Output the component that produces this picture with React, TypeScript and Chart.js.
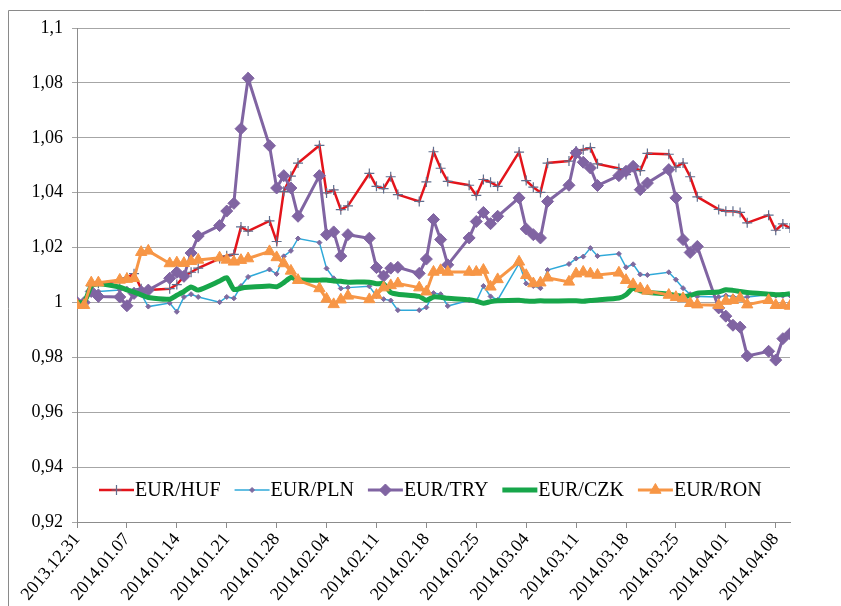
import React, { useEffect, useRef } from "react";
import { Chart, registerables } from "chart.js";
import { drawPoint } from "chart.js/helpers";

Chart.register(...registerables);

// Trading days (x positions come from the calendar date on a linear day axis)
const dates = [
  "2013.12.31", "2014.01.01", "2014.01.02", "2014.01.03",
  "2014.01.06", "2014.01.07", "2014.01.08", "2014.01.09", "2014.01.10",
  "2014.01.13", "2014.01.14", "2014.01.15", "2014.01.16", "2014.01.17",
  "2014.01.20", "2014.01.21", "2014.01.22", "2014.01.23", "2014.01.24",
  "2014.01.27", "2014.01.28", "2014.01.29", "2014.01.30", "2014.01.31",
  "2014.02.03", "2014.02.04", "2014.02.05", "2014.02.06", "2014.02.07",
  "2014.02.10", "2014.02.11", "2014.02.12", "2014.02.13", "2014.02.14",
  "2014.02.17", "2014.02.18", "2014.02.19", "2014.02.20", "2014.02.21",
  "2014.02.24", "2014.02.25", "2014.02.26", "2014.02.27", "2014.02.28",
  "2014.03.03", "2014.03.04", "2014.03.05", "2014.03.06", "2014.03.07",
  "2014.03.10", "2014.03.11", "2014.03.12", "2014.03.13", "2014.03.14",
  "2014.03.17", "2014.03.18", "2014.03.19", "2014.03.20", "2014.03.21",
  "2014.03.24", "2014.03.25", "2014.03.26", "2014.03.27", "2014.03.28",
  "2014.03.31", "2014.04.01", "2014.04.02", "2014.04.03", "2014.04.04",
  "2014.04.07", "2014.04.08", "2014.04.09", "2014.04.10",
];

const eurHuf = [
  1.000, 1.000, 1.006, 1.007,
  1.008, 1.009, 1.0105, 1.005, 1.0045,
  1.005, 1.0065, 1.0095, 1.011, 1.0125,
  1.016, 1.017, 1.0175, 1.0275, 1.026,
  1.0297, 1.0222, 1.0405, 1.046, 1.0508,
  1.0572, 1.0399, 1.041, 1.0338, 1.0352,
  1.047, 1.0423, 1.0415, 1.0458, 1.0393,
  1.0368, 1.0439, 1.0549, 1.0489, 1.0441,
  1.0427, 1.039, 1.0448, 1.0438, 1.0423,
  1.0548, 1.0444, 1.042, 1.0401, 1.0508,
  1.0515, 1.0552, 1.0556, 1.0564, 1.0505,
  1.0488, 1.0466, 1.0495, 1.048, 1.0543,
  1.054, 1.0493, 1.0508, 1.0458, 1.0385,
  1.0339, 1.0332, 1.0332, 1.0328, 1.029,
  1.0318, 1.0263, 1.0286, 1.0271,
];

const eurPln = [
  1.000, 1.000, 1.004, 1.004,
  1.0045, 1.005, 1.0045, 1.003, 0.9985,
  0.9998, 0.9966, 1.002, 1.003, 1.002,
  1.0001, 1.002, 1.0015, 1.006, 1.0093,
  1.012, 1.0104, 1.0168, 1.0188, 1.0233,
  1.0218, 1.0124, 1.0088, 1.0051, 1.0054,
  1.0059, 1.0023, 1.0012, 1.0007, 0.9972,
  0.9972, 0.9982, 1.0034, 1.003, 0.9987,
  1.0008, 1.0004, 1.006, 1.0022, 1.0009,
  1.0142, 1.0069, 1.006, 1.0052, 1.0118,
  1.014, 1.016, 1.0167, 1.0198, 1.0169,
  1.0177, 1.0128, 1.0139, 1.0102, 1.01,
  1.011, 1.0083, 1.0052, 1.003, 1.0022,
  1.002, 1.0025, 1.0022, 1.0018, 1.002,
  1.0028, 1.0025, 1.0024, 1.0025,
];

const eurTry = [
  1.000, 1.000, 1.004, 1.0022,
  1.002, 0.9988, 1.0033, 1.004, 1.0045,
  1.0088, 1.011, 1.0095, 1.018, 1.0242,
  1.028, 1.0333, 1.0361, 1.0633, 1.0817,
  1.0571, 1.0417, 1.0462, 1.0417, 1.0314,
  1.0462, 1.0247, 1.0257, 1.0169, 1.0247,
  1.0234, 1.0127, 1.0096, 1.0125, 1.0128,
  1.0106, 1.0158, 1.0302, 1.0229, 1.0137,
  1.0235, 1.0295, 1.0328, 1.0287, 1.0314,
  1.0381, 1.0268, 1.0247, 1.0235, 1.0368,
  1.0427, 1.0545, 1.0511, 1.049, 1.0426,
  1.0462, 1.0478, 1.0496, 1.0411, 1.0435,
  1.0484, 1.0381, 1.0229, 1.0182, 1.0204,
  0.998, 0.995, 0.9917, 0.991, 0.9805,
  0.9822, 0.979, 0.9868, 0.9886,
];

const eurCzk = [
  1.000, 1.000, 1.006, 1.0068,
  1.0056, 1.0046, 1.0038, 1.0028, 1.0018,
  1.0012, 1.0026, 1.004, 1.0056, 1.0045,
  1.0078, 1.009, 1.0047, 1.0052, 1.0055,
  1.006, 1.0057, 1.0072, 1.0091, 1.0083,
  1.0081, 1.0082, 1.0078, 1.0077, 1.0074,
  1.0074, 1.0068, 1.0068, 1.0036, 1.003,
  1.0022, 1.0008, 1.002, 1.0019, 1.0015,
  1.001, 1.0005, 0.9997, 1.0003, 1.0006,
  1.0008, 1.0005, 1.0004, 1.0006, 1.0005,
  1.0006, 1.0006, 1.0004, 1.0007, 1.0009,
  1.0016, 1.0028, 1.0052, 1.0042, 1.0037,
  1.003, 1.0025, 1.0022, 1.0025, 1.0034,
  1.0038, 1.0046, 1.0044, 1.004, 1.0036,
  1.003, 1.0028, 1.0029, 1.0032,
];

const eurRon = [
  0.999, 0.999, 1.0072, 1.0072,
  1.0082, 1.0085, 1.0088, 1.0183, 1.0188,
  1.0142, 1.0145, 1.0143, 1.015, 1.0155,
  1.0163, 1.0155, 1.0148, 1.0154, 1.016,
  1.0186, 1.0164, 1.0142, 1.0115, 1.0081,
  1.0051, 1.0013, 0.9993, 1.001, 1.0024,
  1.0011, 1.0027, 1.0054, 1.0062, 1.0069,
  1.0054, 1.0039, 1.0111, 1.0117, 1.0111,
  1.0111, 1.0111, 1.0118, 1.0057, 1.0084,
  1.0148, 1.0099, 1.0069, 1.0072, 1.009,
  1.0075, 1.0105, 1.0111, 1.0105, 1.01,
  1.0108, 1.0081, 1.0066, 1.0051, 1.0042,
  1.0027, 1.0019, 1.0015, 0.9997, 0.9992,
  0.999, 1.0005, 1.0008, 1.0016, 0.9992,
  1.0008, 0.999, 0.999, 0.9987,
];

const seriesNames = ["EUR/HUF", "EUR/PLN", "EUR/TRY", "EUR/CZK", "EUR/RON"];

const AXIS_START = "2013.12.31";
const AXIS_END = "2014.04.10";
const TICK_STEP_DAYS = 7;
const Y_MIN = 0.92;
const Y_MAX = 1.1;
const Y_STEP = 0.02;

const SERIF = '"Liberation Serif", "Times New Roman", serif';

function parseDate(s: string): number {
  const [y, m, d] = s.split(".").map(Number);
  return Date.UTC(y, m - 1, d);
}
const BASE = parseDate(AXIS_START);
const dayOf = (s: string) => Math.round((parseDate(s) - BASE) / 86400000);
const fmtDay = (n: number) => {
  const dt = new Date(BASE + Math.round(n) * 86400000);
  return `${dt.getUTCFullYear()}.${String(dt.getUTCMonth() + 1).padStart(2, "0")}.${String(
    dt.getUTCDate()
  ).padStart(2, "0")}`;
};

const toPoints = (vals: number[]) => vals.map((v, i) => ({ x: dayOf(dates[i]), y: v }));

const framePlugin = {
  id: "frame",
  beforeDraw(chart: any) {
    const { ctx, width, height } = chart;
    ctx.save();
    ctx.fillStyle = "#ffffff";
    ctx.fillRect(0, 0, width, height);
    ctx.strokeStyle = "#8a8a8a";
    ctx.lineWidth = 1;
    ctx.beginPath();
    ctx.moveTo(8.5, height);
    ctx.lineTo(8.5, 10.5);
    ctx.lineTo(width, 10.5);
    ctx.stroke();
    ctx.restore();
  },
};

const legendPlugin = {
  id: "innerLegend",
  afterDraw(chart: any) {
    const { ctx, chartArea } = chart;
    ctx.save();
    ctx.font = `20px ${SERIF}`;
    ctx.textBaseline = "middle";
    ctx.textAlign = "left";
    let x = chartArea.left + 22;
    const y = chartArea.bottom - 32;
    chart.data.datasets.forEach((ds: any) => {
      ctx.setLineDash([]);
      ctx.strokeStyle = ds.borderColor;
      ctx.lineWidth = ds.borderWidth;
      ctx.beginPath();
      ctx.moveTo(x, y);
      ctx.lineTo(x + 35, y);
      ctx.stroke();
      if (ds.pointRadius > 0) {
        ctx.fillStyle = ds.pointBackgroundColor;
        ctx.strokeStyle = ds.pointBorderColor;
        ctx.lineWidth = ds.pointBorderWidth;
        drawPoint(
          ctx,
          { pointStyle: ds.pointStyle, radius: ds.pointRadius, borderWidth: ds.pointBorderWidth, rotation: 0 } as any,
          x + 17.5,
          y
        );
      }
      ctx.fillStyle = "#000000";
      ctx.fillText(ds.label, x + 36, y + 1);
      x += 36 + ctx.measureText(ds.label).width + 14;
    });
    ctx.restore();
  },
};

export default function App() {
  const ref = useRef<HTMLCanvasElement | null>(null);

  useEffect(() => {
    if (!ref.current) return;
    const datasets = [
      {
        label: seriesNames[0],
        data: toPoints(eurHuf),
        borderColor: "#E3141B",
        borderWidth: 2.5,
        pointStyle: "cross",
        pointRadius: 5,
        pointBorderWidth: 1.2,
        pointBorderColor: "#5F6E8E",
        pointBackgroundColor: "#5F6E8E",
        order: 5,
      },
      {
        label: seriesNames[1],
        data: toPoints(eurPln),
        borderColor: "#2FA9D9",
        borderWidth: 1.5,
        pointStyle: "rectRot",
        pointRadius: 2.5,
        pointBorderWidth: 1,
        pointBorderColor: "#7E6AA0",
        pointBackgroundColor: "#7E6AA0",
        order: 4,
      },
      {
        label: seriesNames[2],
        data: toPoints(eurTry),
        borderColor: "#8064A2",
        borderWidth: 3,
        pointStyle: "rectRot",
        pointRadius: 6,
        pointBorderWidth: 1,
        pointBorderColor: "#8064A2",
        pointBackgroundColor: "#8064A2",
        order: 3,
      },
      {
        label: seriesNames[3],
        data: toPoints(eurCzk),
        borderColor: "#17A64A",
        borderWidth: 5,
        pointRadius: 0,
        pointStyle: "circle",
        pointBorderWidth: 0,
        pointBorderColor: "#17A64A",
        pointBackgroundColor: "#17A64A",
        tension: 0.2,
        order: 2,
      },
      {
        label: seriesNames[4],
        data: toPoints(eurRon),
        borderColor: "#F79646",
        borderWidth: 3,
        pointStyle: "triangle",
        pointRadius: 6.5,
        pointBorderWidth: 1,
        pointBorderColor: "#F79646",
        pointBackgroundColor: "#F79646",
        order: 1,
      },
    ];

    const chart = new Chart(ref.current, {
      type: "line",
      data: { datasets: datasets as any },
      options: {
        animation: false,
        responsive: false,
        maintainAspectRatio: false,
        events: [],
        layout: { padding: { left: 0, right: 51, top: 28, bottom: 0 } },
        plugins: { legend: { display: false }, tooltip: { enabled: false } },
        scales: {
          x: {
            type: "linear",
            min: 0,
            max: dayOf(AXIS_END),
            afterFit: (s: any) => {
              s.height = 84;
            },
            ticks: {
              stepSize: TICK_STEP_DAYS,
              autoSkip: false,
              includeBounds: false,
              minRotation: 50,
              maxRotation: 50,
              padding: 1,
              color: "#000000",
              font: { family: SERIF, size: 18 },
              callback: (v: any) => fmtDay(Number(v)),
            },
            grid: { drawOnChartArea: false, drawTicks: true, tickLength: 6, color: "#8c8c8c" },
            border: { color: "#8c8c8c" },
          },
          y: {
            min: Y_MIN,
            max: Y_MAX,
            afterFit: (s: any) => {
              s.width = 77;
            },
            ticks: {
              stepSize: Y_STEP,
              padding: 9,
              color: "#000000",
              font: { family: SERIF, size: 18 },
              callback: (v: any) => String(Math.round(Number(v) * 100) / 100).replace(".", ","),
            },
            grid: { color: "#a6a6a6", tickLength: 5 },
            border: { color: "#8c8c8c" },
          },
        },
      } as any,
      plugins: [framePlugin, legendPlugin],
    });
    return () => chart.destroy();
  }, []);

  return (
    <canvas
      ref={ref}
      width={841}
      height={606}
      style={{ position: "fixed", left: 0, top: 0, width: 841, height: 606 }}
    />
  );
}
